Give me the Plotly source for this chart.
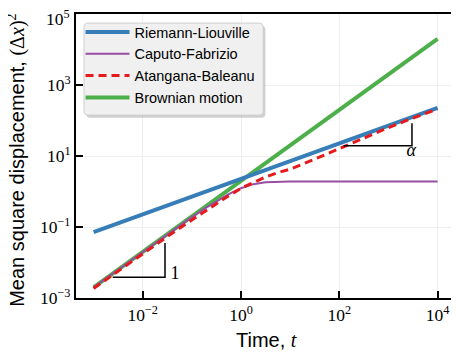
import plotly.graph_objects as go

# ---------------- data ----------------
time_t = [0.001, 0.00316, 0.01, 0.0316, 0.1, 0.178, 0.316, 0.562, 1, 1.78, 3.16,
          5.62, 10, 31.6, 100, 316, 1000, 3160, 10000]
brownian = [0.002, 0.00632, 0.02, 0.0632, 0.2, 0.356, 0.632, 1.12, 2, 3.56, 6.32,
            11.2, 20, 63.2, 200, 632, 2000, 6320, 20000]
riemann_liouville = [0.0714, 0.127, 0.226, 0.401, 0.714, 0.952, 1.27, 1.69, 2.26, 3.01,
                     4.01, 5.35, 7.14, 12.7, 22.6, 40.1, 71.4, 127, 226]
caputo_fabrizio = [0.002, 0.00632, 0.0199, 0.0627, 0.19, 0.324, 0.538, 0.849, 1.24, 1.61,
                   1.83, 1.895, 1.9, 1.9, 1.9, 1.9, 1.9, 1.9, 1.9]
atangana_baleanu = [0.00186, 0.00575, 0.0178, 0.0537, 0.158, 0.269, 0.457, 0.759, 1.23,
                    1.82, 2.57, 3.39, 4.27, 8.13, 16.2, 32.4, 63.1, 117, 209]

series_names = ["Riemann-Liouville", "Caputo-Fabrizio", "Atangana-Baleanu", "Brownian motion"]

x_tick_vals = [0.01, 1, 100, 10000]
x_tick_text = ["10<sup>−2</sup>", "10<sup>0</sup>", "10<sup>2</sup>", "10<sup>4</sup>"]
y_tick_vals = [0.001, 0.1, 10, 1000, 100000]
y_tick_text = ["10<sup>−3</sup>", "10<sup>−1</sup>", "10<sup>1</sup>", "10<sup>3</sup>", "10<sup>5</sup>"]

# slope-guide triangles
slope1_t = [0.00245, 0.0284, 0.0284]
slope1_y = [0.00383, 0.00383, 0.0354]
slopeA_t = [122, 3013, 3013]
slopeA_y = [19.5, 19.5, 83.4]
label_t = [0.0455, 2917]
label_y = [0.00445, 13.2]
label_text = ["1", "<i>α</i>"]

SERIF = "Liberation Serif, Times New Roman, serif"
SANS = "Liberation Sans, Arial, sans-serif"

fig = go.Figure()

fig.add_trace(go.Scatter(x=time_t, y=brownian, mode="lines", name=series_names[3],
                         line=dict(color="#4daf4a", width=4), legendrank=4))
fig.add_trace(go.Scatter(x=time_t, y=riemann_liouville, mode="lines", name=series_names[0],
                         line=dict(color="#377eb8", width=4), legendrank=1))
fig.add_trace(go.Scatter(x=time_t, y=caputo_fabrizio, mode="lines", name=series_names[1],
                         line=dict(color="#984ea3", width=2), legendrank=2))
fig.add_trace(go.Scatter(x=time_t, y=atangana_baleanu, mode="lines", name=series_names[2],
                         line=dict(color="#e41a1c", width=3, dash="8px,5px"), legendrank=3))

for tx, ty in [(slope1_t, slope1_y), (slopeA_t, slopeA_y)]:
    fig.add_trace(go.Scatter(x=tx, y=ty, mode="lines", showlegend=False, hoverinfo="skip",
                             line=dict(color="black", width=1.5)))

fig.add_trace(go.Scatter(x=label_t, y=label_y, mode="text", text=label_text, showlegend=False,
                         textfont=dict(family=SERIF, size=18, color="black"), hoverinfo="skip"))

# legend background (rounded box with a soft shadow)
def rounded_rect(x0, y0, x1, y1, rx, ry):
    return (f"M{x0+rx},{y0} L{x1-rx},{y0} Q{x1},{y0} {x1},{y0+ry} L{x1},{y1-ry} "
            f"Q{x1},{y1} {x1-rx},{y1} L{x0+rx},{y1} Q{x0},{y1} {x0},{y1-ry} "
            f"L{x0},{y0+ry} Q{x0},{y0} {x0+rx},{y0} Z")

lx0, lx1, ly0, ly1 = 0.0212, 0.4964, 0.644, 0.968
fig.add_shape(type="path", xref="paper", yref="paper", layer="above",
              path=rounded_rect(lx0 + 0.006, ly0 - 0.009, lx1 + 0.006, ly1 - 0.009, 0.011, 0.014),
              fillcolor="rgba(150,150,150,0.45)", line=dict(width=0))
fig.add_shape(type="path", xref="paper", yref="paper", layer="above",
              path=rounded_rect(lx0, ly0, lx1, ly1, 0.011, 0.014),
              fillcolor="#f0f0f0", line=dict(color="#cfcfcf", width=1))

# axis titles as annotations (precise placement)
fig.add_annotation(xref="paper", yref="paper", x=0.506, y=-0.148, xanchor="center", yanchor="middle",
                   text=f"Time, <span style=\"font-family:{SERIF}\"><i>t</i></span>",
                   showarrow=False, font=dict(family=SANS, size=20, color="black"))
fig.add_annotation(xref="paper", yref="paper", x=-0.157, y=0.486, xanchor="center", yanchor="middle",
                   textangle=-90,
                   text=("Mean square displacement, "
                         f"<span style=\"font-family:{SERIF}\">(Δ<i>x</i>)<sup>2</sup></span>"),
                   showarrow=False, font=dict(family=SANS, size=20, color="black"))

# top y tick label sits slightly below its tick (kept inside the page)
fig.add_annotation(xref="paper", yref="paper", x=0, y=1, xshift=-4.5, yshift=-4,
                   xanchor="right", yanchor="middle", showarrow=False,
                   text=y_tick_text[-1], font=dict(family=SERIF, size=17.5, color="black"))
y_axis_text = y_tick_text[:-1] + [""]

# the page body adds an 8px offset, so the figure is 8px smaller than the window
fig.update_layout(
    template="none",
    width=451, height=350,
    margin=dict(l=68, r=6.3, t=6, b=60, autoexpand=False),
    paper_bgcolor="white", plot_bgcolor="white",
    showlegend=True,
    legend=dict(x=0.012, y=0.993, xanchor="left", yanchor="top",
                bgcolor="rgba(0,0,0,0)", borderwidth=0,
                font=dict(family=SANS, size=14.5, color="black"),
                itemwidth=44, tracegroupgap=0),
    font=dict(family=SANS, color="black"),
)

common = dict(
    type="log", automargin=False, ticklabeloverflow="allow",
    tickfont=dict(family=SERIF, size=17.5, color="black"),
    ticks="inside", ticklen=7, tickwidth=1.5, tickcolor="black",
    showline=True, linecolor="black", linewidth=2, mirror=True,
    showgrid=True, gridcolor="#efefef", gridwidth=1, zeroline=False,
    minor=dict(showgrid=False, ticks=""),
)
fig.update_xaxes(range=[-3.358, 4.314], tickvals=x_tick_vals, ticktext=x_tick_text, **common)
fig.update_yaxes(range=[-3, 5], tickvals=y_tick_vals, ticktext=y_axis_text, **common)

fig.write_html("out.html")
